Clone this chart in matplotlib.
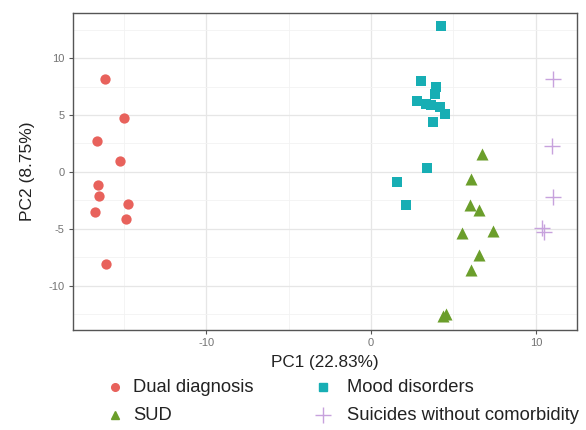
import matplotlib
matplotlib.use("Agg")
import matplotlib.pyplot as plt
from matplotlib.ticker import MultipleLocator
from matplotlib.lines import Line2D

plt.rcParams['font.family'] = ['Liberation Sans', 'DejaVu Sans']
plt.rcParams['axes.unicode_minus'] = False

# PCA scores per group
dual_pc1 = [-16.16, -15.03, -16.65, -15.27, -16.57, -16.52, -16.77, -14.74, -14.90, -16.12]
dual_pc2 = [8.13, 4.70, 2.73, 0.97, -1.14, -2.11, -3.49, -2.84, -4.16, -8.06]

mood_pc1 = [4.22, 3.03, 3.92, 3.86, 2.81, 3.35, 3.65, 4.16, 4.47, 3.78, 3.39, 1.57, 2.10]
mood_pc2 = [12.83, 7.98, 7.45, 6.85, 6.22, 6.00, 5.90, 5.67, 5.05, 4.43, 0.30, -0.93, -2.87]

sud_pc1 = [6.74, 6.07, 5.99, 6.56, 5.52, 7.39, 6.56, 6.07, 4.37, 4.55]
sud_pc2 = [1.56, -0.64, -2.93, -3.31, -5.34, -5.22, -7.27, -8.65, -12.65, -12.50]

sui_pc1 = [11.07, 10.97, 11.05, 10.38, 10.49]
sui_pc2 = [8.16, 2.29, -2.20, -4.90, -5.28]

group_names = ["Dual diagnosis", "Mood disorders", "SUD", "Suicides without comorbidity"]
group_colors = ["#E8625C", "#17AEB4", "#6B9E2B", "#C7A2DD"]

W, H = 586, 430
fig = plt.figure(figsize=(W / 100, H / 100), dpi=100)
ax = fig.add_axes([0.1246, 0.2326, 0.8600, 0.7379])

ax.scatter(dual_pc1, dual_pc2, marker='o', s=55, color=group_colors[0], zorder=3, linewidths=0)
ax.scatter(mood_pc1, mood_pc2, marker='s', s=60, color=group_colors[1], zorder=3, linewidths=0)
ax.scatter(sud_pc1, sud_pc2, marker='^', s=75, color=group_colors[2], zorder=3, linewidths=0)
ax.scatter(sui_pc1, sui_pc2, marker='+', s=120, color=group_colors[3], zorder=3, linewidths=1.0)

ax.set_xlim(-18.1, 12.5)
ax.set_ylim(-13.9, 14.0)

ax.xaxis.set_major_locator(MultipleLocator(10))
ax.xaxis.set_minor_locator(MultipleLocator(5))
ax.yaxis.set_major_locator(MultipleLocator(5))
ax.yaxis.set_minor_locator(MultipleLocator(2.5))

ax.grid(True, which='major', color='#E6E6E6', linewidth=0.9, zorder=0)
ax.grid(True, which='minor', color='#F2F2F2', linewidth=0.6, zorder=0)
ax.set_axisbelow(True)

for sp in ax.spines.values():
    sp.set_color('#555555')
    sp.set_linewidth(1.0)

ax.tick_params(which='major', length=3, width=0.8, color='#555555',
               labelsize=8, labelcolor='#737373', pad=3)
ax.tick_params(which='minor', length=0)

ax.set_xlabel("PC1 (22.83%)", fontsize=12.3, color='#222222', labelpad=5)
ax.set_ylabel("PC2 (8.75%)", fontsize=12.5, color='#222222', labelpad=10)

# Legend keys laid out in two columns below the panel (pixel positions)
key_style = [
    dict(marker='o', markersize=5.5),
    dict(marker='s', markersize=5.5),
    dict(marker='^', markersize=6),
    dict(marker='+', markersize=11, markeredgewidth=1.0),
]
key_x = [115, 323]
text_x = [133, 347]
for i, name in enumerate(group_names):
    col = i % 2
    row = i // 2
    xk = key_x[col] / W
    xt = text_x[col] / W
    yy = 1 - (387 + 28 * row) / H
    fig.add_artist(Line2D([xk], [yy], transform=fig.transFigure, linestyle='none',
                          color=group_colors[i], **key_style[i]))
    fig.text(xt, yy, name, fontsize=13.2, color='#222222', va='center', ha='left')

fig.savefig("out.png", dpi=100)
